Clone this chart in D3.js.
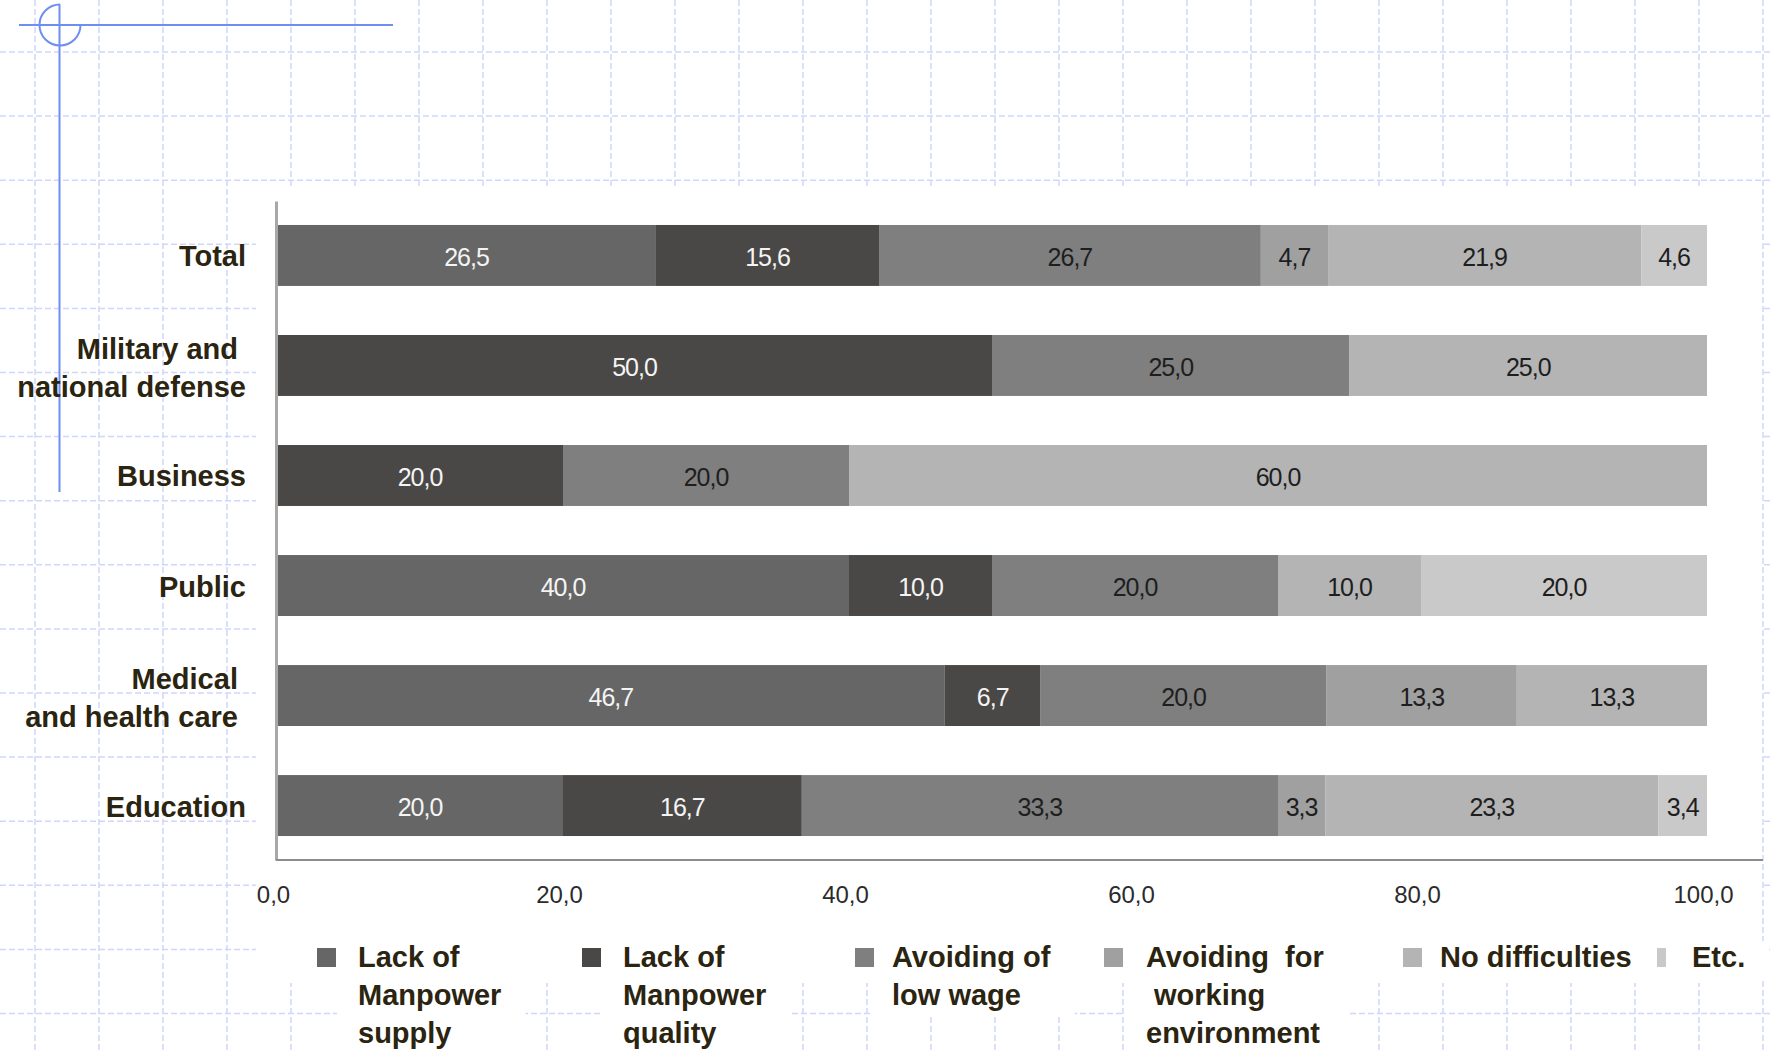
<!DOCTYPE html>
<html>
<head>
<meta charset="utf-8">
<script src="https://cdn.jsdelivr.net/npm/d3@7"></script>
<style>
  html, body { margin: 0; padding: 0; background: #ffffff; }
  svg { display: block; }
</style>
</head>
<body>
<svg id="chart" width="1770" height="1050"></svg>
<script>
// ---------------- DATA ----------------
const categories = ["Total", "Military and national defense", "Business", "Public", "Medical and health care", "Education"];
const categoryLines = [
  ["Total"],
  ["Military and\u00a0", "national defense"],
  ["Business"],
  ["Public"],
  ["Medical\u00a0", "and health care\u00a0"],
  ["Education"]
];
const seriesNames = ["Lack of Manpower supply", "Lack of Manpower quality", "Avoiding of low wage",
                     "Avoiding for working environment", "No difficulties", "Etc."];
const legendLines = [
  ["Lack of", "Manpower", "supply"],
  ["Lack of", "Manpower", "quality"],
  ["Avoiding of", "low wage"],
  ["Avoiding  for", " working", "environment"],
  ["No difficulties"],
  ["Etc."]
];
const lackSupply  = [26.5, 0,    0,    40.0, 46.7, 20.0];
const lackQuality = [15.6, 50.0, 20.0, 10.0, 6.7,  16.7];
const lowWage     = [26.7, 25.0, 20.0, 20.0, 20.0, 33.3];
const workEnv     = [4.7,  0,    0,    0,    13.3, 3.3];
const noDiff      = [21.9, 25.0, 60.0, 10.0, 13.3, 23.3];
const etcVals     = [4.6,  0,    0,    20.0, 0,    3.4];
const seriesValues = [lackSupply, lackQuality, lowWage, workEnv, noDiff, etcVals];
const tickValues = [0, 20, 40, 60, 80, 100];
const seriesColors = ["#666666", "#4a4846", "#7f7f7f", "#a0a0a0", "#b4b4b4", "#c9c9c9"];
const labelColors = ["#f4f4f4", "#f4f4f4", "#1e1e1e", "#1e1e1e", "#1e1e1e", "#1e1e1e"];

// ---------------- LAYOUT ----------------
const W = 1770, H = 1050;
const svg = d3.select("#chart");
const textColor = "#2a2410";
const boldFont = "'Liberation Sans', Arial, sans-serif";

// background dashed grid
const gridG = svg.append("g");
const gx = d3.range(35, W + 1, 64);
const gy = d3.range(52, H + 1, 64.1);
gridG.selectAll("line.v").data(gx).join("line")
  .attr("x1", d => d).attr("x2", d => d).attr("y1", 0).attr("y2", H)
  .attr("stroke", "#cfd8fb").attr("stroke-width", 1.5).attr("stroke-dasharray", "6,3");
gridG.selectAll("line.h").data(gy).join("line")
  .attr("y1", d => d).attr("y2", d => d).attr("x1", 0).attr("x2", W)
  .attr("stroke", "#cfd8fb").attr("stroke-width", 1.5).attr("stroke-dasharray", "6,3");

// white chart panel
svg.append("rect").attr("x", 256).attr("y", 186).attr("width", 1762 - 256).attr("height", 983 - 186)
  .attr("fill", "#ffffff");

// decorative blue lines
const deco = svg.append("g").attr("stroke", "#6f8ef2").attr("stroke-width", 2).attr("fill", "none");
deco.append("line").attr("x1", 19).attr("x2", 393).attr("y1", 25).attr("y2", 25);
deco.append("line").attr("x1", 59.5).attr("x2", 59.5).attr("y1", 4).attr("y2", 492);
deco.append("path").attr("d", "M 60 4.5 A 20.5 20.5 0 1 0 80.5 25");

// scales
const x = d3.scaleLinear().domain([0, 100]).range([277, 1707]);
const y = d3.scaleBand().domain(categories).range([201, 860]).paddingInner(0.446).paddingOuter(0.218);

// stacked data
const table = categories.map((c, i) => {
  const row = { category: c };
  seriesNames.forEach((s, j) => { row[s] = seriesValues[j][i]; });
  return row;
});
const stacked = d3.stack().keys(seriesNames)(table);
const fmt = v => d3.format(".1f")(v).replace(".", ",");

const barsG = svg.append("g");
stacked.forEach((layer, j) => {
  const g = barsG.append("g");
  g.selectAll("rect").data(layer.filter(d => d[1] - d[0] > 0)).join("rect")
    .attr("x", d => x(d[0]))
    .attr("y", d => y(d.data.category))
    .attr("width", d => x(d[1]) - x(d[0]))
    .attr("height", y.bandwidth())
    .attr("fill", seriesColors[j]);
  g.selectAll("text").data(layer.filter(d => d[1] - d[0] > 0)).join("text")
    .attr("x", d => (x(d[0]) + x(d[1])) / 2)
    .attr("y", d => y(d.data.category) + y.bandwidth() / 2)
    .attr("dy", "0.42em")
    .attr("text-anchor", "middle")
    .attr("font-family", "'Liberation Sans', Arial, sans-serif")
    .attr("font-size", 25)
    .attr("letter-spacing", -1)
    .attr("fill", labelColors[j])
    .text(d => fmt(d[1] - d[0]));
});

// y axis line
const yAxis = svg.append("g").attr("transform", "translate(276,0)")
  .call(d3.axisLeft(y).tickSize(0).tickFormat(""));
yAxis.select(".domain").attr("stroke", "#a8a8a8").attr("stroke-width", 3);

// x axis
const xAxis = svg.append("g").attr("transform", "translate(0,860)")
  .call(d3.axisBottom(x).tickValues(tickValues).tickSize(0).tickPadding(26).tickFormat(fmt));
xAxis.select(".domain").remove();
xAxis.selectAll("text")
  .attr("font-family", "'Liberation Sans', Arial, sans-serif")
  .attr("font-size", 24)
  .attr("fill", "#2b2b2b")
  .attr("dx", -4);
svg.append("line").attr("x1", 276).attr("x2", 1763).attr("y1", 860).attr("y2", 860)
  .attr("stroke", "#8c8c8c").attr("stroke-width", 2);

// category labels
const catG = svg.append("g");
categories.forEach((c, i) => {
  const lines = categoryLines[i];
  const cy = y(c) + y.bandwidth() / 2;
  const t = catG.append("text")
    .attr("text-anchor", "end")
    .attr("font-family", boldFont)
    .attr("font-weight", "bold")
    .attr("font-size", 29)
    .attr("fill", textColor)
    .style("white-space", "pre");
  lines.forEach((ln, k) => {
    t.append("tspan").attr("x", 246)
      .attr("y", cy - (lines.length - 1) * 19 + k * 38 + (lines.length > 1 ? 12.5 : 11))
      .text(ln);
  });
});

// legend
const legendTextX = [358, 623, 892, 1146, 1440, 1692];
const legendMarkerX = [317, 582, 855, 1104, 1403, 1657];
const legendG = svg.append("g");
seriesNames.forEach((s, j) => {
  const g = legendG.append("g");
  const bg = g.append("rect").attr("fill", "#ffffff");
  g.append("rect")
    .attr("x", legendMarkerX[j]).attr("y", 948)
    .attr("width", j === seriesNames.length - 1 ? 9 : 19).attr("height", 19)
    .attr("fill", seriesColors[j]);
  const t = g.append("text")
    .attr("font-family", boldFont)
    .attr("font-weight", "bold")
    .attr("font-size", 29)
    .attr("fill", textColor)
    .style("white-space", "pre");
  legendLines[j].forEach((ln, k) => {
    t.append("tspan").attr("x", legendTextX[j]).attr("y", 967 + k * 38).text(ln);
  });
  const bb = t.node().getBBox();
  bg.attr("x", bb.x - 21).attr("y", bb.y).attr("width", bb.width + 45).attr("height", bb.height + 6);
});
</script>
</body>
</html>
